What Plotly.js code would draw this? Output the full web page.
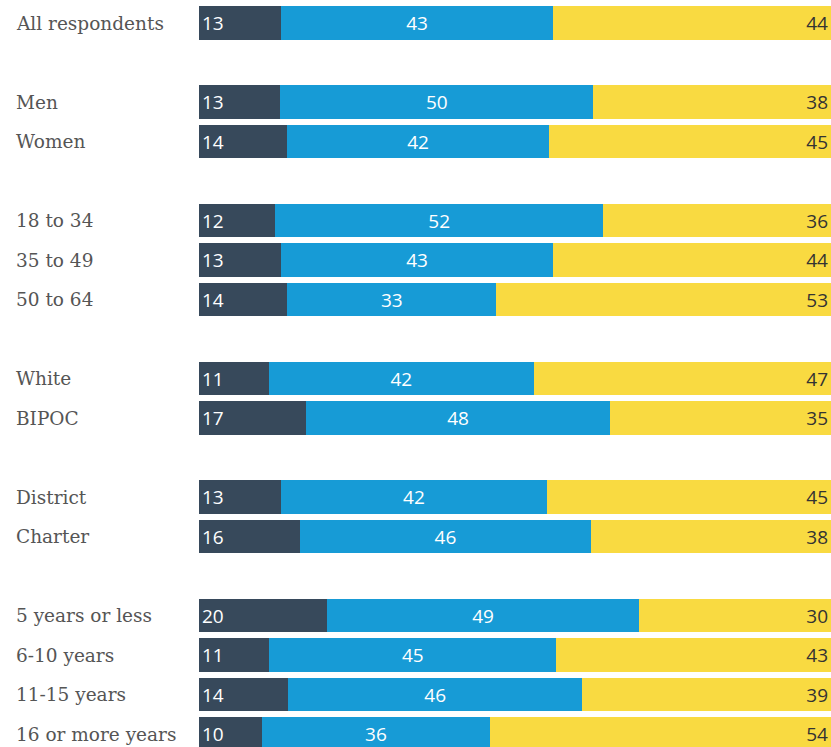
<!DOCTYPE html>
<html>
<head>
<meta charset="utf-8">
<script src="https://cdn.plot.ly/plotly-3.0.1.min.js"></script>
<style>html,body{margin:0;padding:0;background:#fff;}#chart{width:831px;height:747px;}</style>
</head>
<body>
<div id="chart"></div>
<script>
// Data
const categories = ["All respondents", "Men", "Women", "18 to 34", "35 to 49", "50 to 64", "White", "BIPOC", "District", "Charter", "5 years or less", "6-10 years", "11-15 years", "16 or more years"];
const groupIds = [0, 1, 1, 2, 2, 2, 3, 3, 4, 4, 5, 5, 5, 5];
const darkValues = [13, 13, 14, 12, 13, 14, 11, 17, 13, 16, 20, 11, 14, 10];
const blueValues = [43, 50, 42, 52, 43, 33, 42, 48, 42, 46, 49, 45, 46, 36];
const yellowValues = [44, 38, 45, 36, 44, 53, 47, 35, 45, 38, 30, 43, 39, 54];

// slot positions with one empty slot between groups
const ypos = [];
let slot = 0;
for (let i = 0; i < categories.length; i++) {
  if (i > 0 && groupIds[i] !== groupIds[i - 1]) slot += 1;
  ypos.push(slot);
  slot += 1;
}

const valueFont = {family: "Open Sans, Noto Sans, sans-serif", size: 19};
function mk(vals, color, txtColor, anchor) {
  return {
    type: 'bar', orientation: 'h',
    x: vals, y: ypos,
    text: vals.map(String),
    texttemplate: '%{text}',
    textposition: 'inside',
    insidetextanchor: anchor,
    textangle: 0,
    constraintext: 'none',
    insidetextfont: Object.assign({color: txtColor}, valueFont),
    marker: {color: color, line: {width: 0}},
    width: 0.86,
    hoverinfo: 'skip',
    cliponaxis: true
  };
}
const data = [
  mk(darkValues, '#37495b', '#ffffff', 'start'),
  mk(blueValues, '#179bd6', '#ffffff', 'middle'),
  mk(yellowValues, '#f9da41', '#333333', 'end')
];

const L = 199, W = 831, H = 747;
const rowPx = 39.5, firstCenter = 23;
const yTop = -firstCenter / rowPx;
const yBottom = (H - firstCenter) / rowPx;

const annotations = categories.map((c, i) => ({
  text: c, xref: 'paper', yref: 'y',
  x: -(L - 14) / (W - L), y: ypos[i],
  xanchor: 'left', yanchor: 'middle', showarrow: false,
  font: {family: "DejaVu Serif, serif", size: 18.5, color: '#555555'}
}));

const layout = {
  width: W, height: H,
  margin: {l: L, r: 0, t: 0, b: 0, pad: 0},
  barmode: 'stack', barnorm: 'percent',
  showlegend: false,
  paper_bgcolor: '#ffffff', plot_bgcolor: '#ffffff',
  xaxis: {range: [0, 100], showgrid: false, zeroline: false, showticklabels: false, ticks: '', fixedrange: true},
  yaxis: {range: [yBottom, yTop], showgrid: false, zeroline: false, showticklabels: false, ticks: '', fixedrange: true},
  annotations: annotations
};
Plotly.newPlot('chart', data, layout, {displayModeBar: false, staticPlot: true});
</script>
</body>
</html>
